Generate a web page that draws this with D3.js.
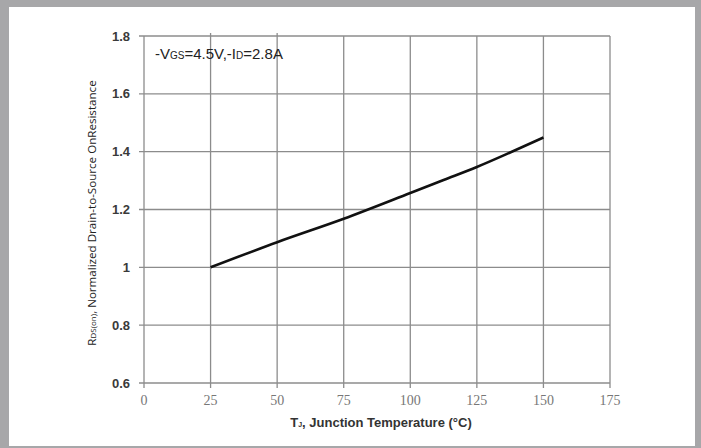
<!DOCTYPE html>
<html>
<head>
<meta charset="utf-8">
<script src="https://cdn.jsdelivr.net/npm/d3@7"></script>
<style>
  html, body { margin: 0; padding: 0; background: #a7a7a9; }
  #chart { width: 701px; height: 448px; }
</style>
</head>
<body>
<div id="chart"></div>
<script>
// data
const tempC = [25, 50, 75, 100, 112.5, 125, 137.5, 150];
const rdsNorm = [1.0, 1.087, 1.168, 1.257, 1.302, 1.347, 1.397, 1.449];
const xTicks = [0, 25, 50, 75, 100, 125, 150, 175];
const yTicks = [0.6, 0.8, 1, 1.2, 1.4, 1.6, 1.8];

const width = 701, height = 448;
const svg = d3.select("#chart").append("svg")
  .attr("width", width).attr("height", height);

// white panel inside the grey frame
svg.append("rect")
  .attr("x", 9).attr("y", 7).attr("width", 686).attr("height", 439)
  .attr("fill", "#fff");

const x = d3.scaleLinear().domain([0, 175]).range([144, 610]);
const y = d3.scaleLinear().domain([0.6, 1.8]).range([383, 36]);

const grid = svg.append("g").attr("stroke", "#8c8c8c").attr("stroke-width", 1.3);

// vertical grid + ticks
grid.selectAll(".vx").data(xTicks).enter().append("line")
  .attr("x1", d => x(d)).attr("x2", d => x(d))
  .attr("y1", y(1.8)).attr("y2", y(0.6) + 5);

// small ticks above top edge at 25 and 50
grid.selectAll(".tx").data([25, 50]).enter().append("line")
  .attr("x1", d => x(d)).attr("x2", d => x(d))
  .attr("y1", y(1.8) - 3).attr("y2", y(1.8));

// horizontal grid + ticks
grid.selectAll(".hy").data(yTicks).enter().append("line")
  .attr("x1", x(0) - 5).attr("x2", x(175))
  .attr("y1", d => y(d)).attr("y2", d => y(d));

// y tick labels
svg.append("g").selectAll("text").data(yTicks).enter().append("text")
  .attr("x", 130).attr("y", d => y(d))
  .attr("dy", "0.35em")
  .attr("text-anchor", "end")
  .attr("font-family", "Liberation Sans, Arial, sans-serif")
  .attr("font-size", 13).attr("font-weight", "bold")
  .attr("fill", "#3a3a3a")
  .text(d => d === 1 ? "1" : d.toFixed(1));

// x tick labels
svg.append("g").selectAll("text").data(xTicks).enter().append("text")
  .attr("x", d => x(d)).attr("y", 400)
  .attr("dy", "0.35em")
  .attr("text-anchor", "middle")
  .attr("font-family", "Liberation Serif, DejaVu Serif, serif")
  .attr("font-size", 14)
  .attr("fill", "#777")
  .text(d => d);

// curve
const line = d3.line()
  .x((d, i) => x(tempC[i]))
  .y(d => y(d))
  .curve(d3.curveMonotoneX);

svg.append("path")
  .datum(rdsNorm)
  .attr("d", line)
  .attr("fill", "none")
  .attr("stroke", "#111")
  .attr("stroke-width", 2.6);

// annotation
const ann = svg.append("text")
  .attr("x", 155).attr("y", 59)
  .attr("font-family", "Liberation Sans, Arial, sans-serif")
  .attr("font-size", 15).attr("fill", "#222");
ann.append("tspan").text("-V");
ann.append("tspan").attr("font-size", 10).text("GS");
ann.append("tspan").text("=4.5V,-I");
ann.append("tspan").attr("font-size", 10).text("D");
ann.append("tspan").text("=2.8A");

// x axis title
const xt = svg.append("text")
  .attr("x", 381).attr("y", 427)
  .attr("text-anchor", "middle")
  .attr("font-family", "Liberation Sans Narrow, Liberation Sans, Arial, sans-serif")
  .attr("font-size", 13).attr("font-weight", "bold").attr("fill", "#333");
xt.append("tspan").text("T");
xt.append("tspan").attr("font-size", 7).text("J");
xt.append("tspan").text(", Junction Temperature (°C)");

// y axis title
const yt = svg.append("text")
  .attr("transform", "translate(96,213) rotate(-90)")
  .attr("text-anchor", "middle")
  .attr("font-family", "Open Sans, Liberation Sans, sans-serif")
  .attr("font-size", 11.6).attr("fill", "#222");
yt.append("tspan").text("R");
yt.append("tspan").attr("font-size", 8).text("DS(on)");
yt.append("tspan").text(", Normalized Drain-to-Source OnResistance");
</script>
</body>
</html>
